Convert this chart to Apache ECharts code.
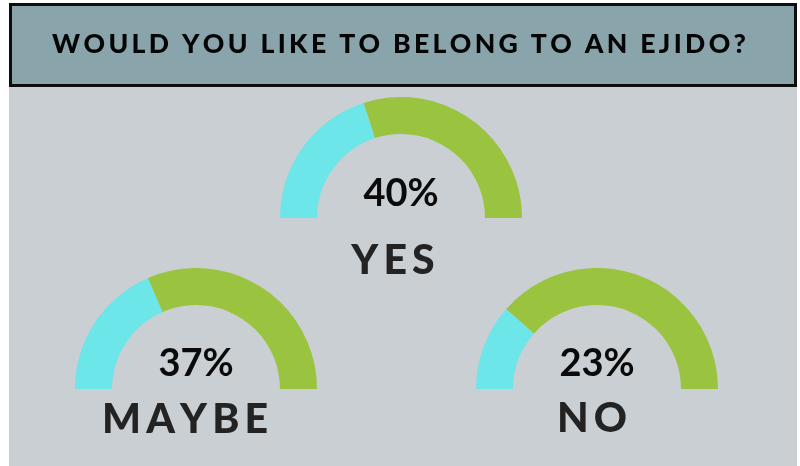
<!DOCTYPE html>
<html>
<head>
<meta charset="utf-8">
<title>Would you like to belong to an ejido?</title>
<script src="https://cdn.jsdelivr.net/npm/echarts@6/dist/echarts.min.js"></script>
<style>
  html, body { margin: 0; padding: 0; background: #ffffff; }
  #chart { width: 800px; height: 466px; }
</style>
</head>
<body>
<div id="chart"></div>
<script>
// Survey answers and their shares (percent)
const titleText = 'WOULD YOU LIKE TO BELONG TO AN EJIDO?';
const answers = ['YES', 'MAYBE', 'NO'];
const shares = [40, 37, 23];

// Layout of each half-donut: centre x, baseline y, name label centre
const gaugeCenters = [[401, 218], [196, 389], [597, 389]];
const valueLabelY = [194, 364, 364];
const nameLabelPos = [[393, 261], [185, 420], [592, 419]];

const CYAN = '#6ce6e8';
const GREEN = '#9ac43f';
const PANEL = '#c9cfd3';

// Letter-spaced text: thin spaces between the glyphs
function spaced(s, sep) { return s.split('').join(sep); }

const chart = echarts.init(document.getElementById('chart'), null, { renderer: 'canvas' });

const series = answers.map((name, i) => ({
  type: 'pie',
  name: name,
  center: gaugeCenters[i],
  radius: [84, 121],
  startAngle: 180,
  endAngle: 0,
  clockwise: true,
  silent: true,
  label: { show: false },
  labelLine: { show: false },
  emphasis: { disabled: true },
  data: [
    { value: shares[i], itemStyle: { color: CYAN } },
    { value: 100 - shares[i], itemStyle: { color: GREEN } }
  ]
}));

const texts = [];
answers.forEach((name, i) => {
  texts.push({
    type: 'text', z: 10,
    style: {
      text: shares[i] + '%',
      x: gaugeCenters[i][0], y: valueLabelY[i],
      align: 'center', verticalAlign: 'middle',
      font: 'bold 38px Lato', fill: '#0a0a0a'
    }
  });
  texts.push({
    type: 'text', z: 10,
    style: {
      text: spaced(name, '\u2009'),
      x: nameLabelPos[i][0], y: nameLabelPos[i][1],
      align: 'center', verticalAlign: 'middle',
      font: '900 41px Lato', fill: '#232323'
    }
  });
});

chart.setOption({
  backgroundColor: '#ffffff',
  animation: false,
  graphic: [
    // grey panel behind everything
    { type: 'rect', z: -10, shape: { x: 9, y: 3, width: 788, height: 463 }, style: { fill: PANEL } },
    // heading box
    { type: 'rect', z: -5, shape: { x: 10.5, y: 4.5, width: 785, height: 81 },
      style: { fill: '#89a4aa', stroke: '#0d0d0d', lineWidth: 3 } },
    { type: 'text', z: 10,
      style: {
        text: spaced(titleText, '\u2009'),
        x: 399, y: 44, align: 'center', verticalAlign: 'middle',
        font: '900 26.6px Lato', fill: '#050505'
      } }
  ].concat(texts),
  series: series
});
</script>
</body>
</html>
